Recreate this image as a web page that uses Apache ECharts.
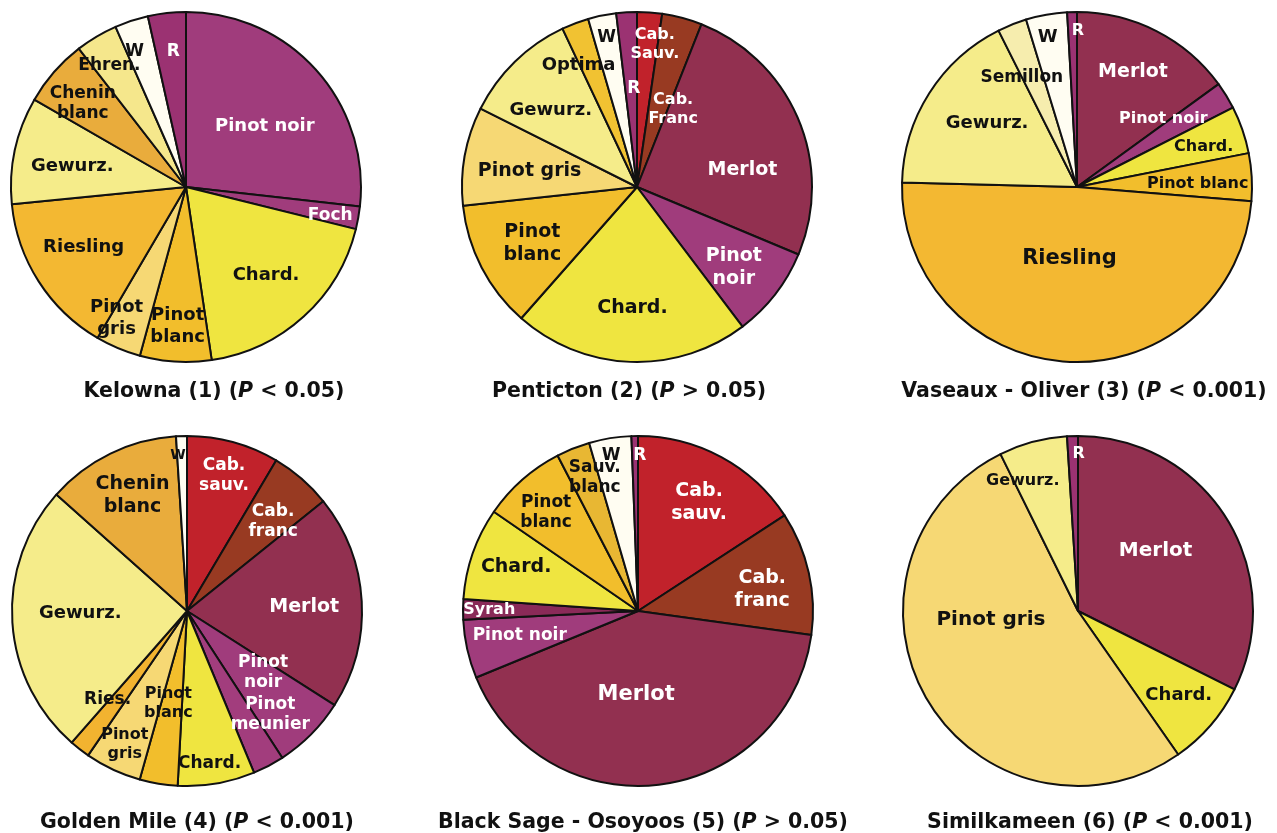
<!DOCTYPE html>
<html>
<head>
<meta charset="utf-8">
<script src="https://cdn.jsdelivr.net/npm/echarts@6/dist/echarts.min.js"></script>
<style>
html,body{margin:0;padding:0;background:#fff;}
#chart{width:1277px;height:833px;}
</style>
</head>
<body>
<div id="chart"></div>
<script>
// ---------- DATA (percent share) ----------
const kelownaCats = ['Pinot noir','Foch','Chard.','Pinot\nblanc','Pinot\ngris','Riesling','Gewurz.','Chenin\nblanc','Ehren.','W','R'];
const kelownaVals = [26.8, 2.1, 18.8, 6.6, 4.2, 15.0, 9.9, 6.2, 3.9, 3.1, 3.5];

const pentictonCats = ['Cab.\nSauv.','Cab.\nFranc','Merlot','Pinot\nnoir','Chard.','Pinot\nblanc','Pinot gris','Gewurz.','Optima','W','R'];
const pentictonVals = [2.3, 3.7, 25.3, 8.4, 21.8, 11.8, 9.1, 10.6, 2.5, 2.6, 1.9];

const vaseauxCats = ['Merlot','Pinot noir','Chard.','Pinot blanc','Riesling','Gewurz.','Semillon','W','R'];
const vaseauxVals = [15.0, 2.5, 4.4, 4.4, 49.1, 17.2, 2.7, 3.8, 0.9];

const goldenCats = ['Cab.\nsauv.','Cab.\nfranc','Merlot','Pinot\nnoir','Pinot\nmeunier','Chard.','Pinot\nblanc','Pinot\ngris','Ries.','Gewurz.','Chenin\nblanc','W'];
const goldenVals = [8.5, 5.7, 19.8, 6.8, 2.9, 7.1, 3.5, 5.2, 1.9, 25.1, 12.4, 1.0];

const blackSageCats = ['Cab.\nsauv.','Cab.\nfranc','Merlot','Pinot noir','Syrah','Chard.','Pinot\nblanc','Sauv.\nblanc','W','R'];
const blackSageVals = [15.8, 11.4, 41.6, 5.4, 1.9, 8.5, 7.8, 3.1, 3.9, 0.6];

const simCats = ['Merlot','Chard.','Pinot gris','Gewurz.','R'];
const simVals = [32.4, 7.9, 52.4, 6.3, 1.0];

const titleNames = ['Kelowna (1) (', 'Penticton (2) (', 'Vaseaux - Oliver (3) (', 'Golden Mile (4) (', 'Black Sage - Osoyoos (5) (', 'Similkameen (6) ('];
const titleStats = [' < 0.05)', ' > 0.05)', ' < 0.001)', ' < 0.001)', ' > 0.05)', ' < 0.001)'];

// ---------- LAYOUT / STYLE ----------
const centers = [[186,187],[637,187],[1077,187],[187,611],[638,611],[1078,611]];
const R = 175;
const titleLeft = [209, 624, 1079, 192, 638, 1085];
const titleTop = [376, 376, 376, 807, 807, 807];

// label placement: [radial fraction, angle shift (deg), font size]
const kelownaLab = [[0.57,4,18],[0.84,1,17],[0.68,0,18],[0.8,0,18],[0.85,5,18],[0.68,2,18],[0.66,-2,18],[0.76,-2,17],[0.82,-1.5,17],[0.83,-2.5,17],[0.78,1,17]];
const pentictonLab = [[0.82,3,16],[0.49,10,16],[0.61,14,19],[0.72,2,19],[0.69,0,19],[0.68,-1,19],[0.62,-2,19],[0.66,-4,18],[0.77,-5,18],[0.87,0,17],[0.56,1.5,17]];
const vaseauxLab = [[0.73,-1,19],[0.63,-7,16],[0.76,1.4,16],[0.69,1.7,16],[0.41,3,21],[0.63,3,18],[0.70,-5,17],[0.87,-1,18],[0.89,2,16]];
const goldenLab = [[0.8,0,17],[0.71,3,17],[0.67,1,19],[0.56,-5.7,17],[0.76,-11,17],[0.88,1.3,17],[0.54,2,16],[0.84,0,16],[0.68,4,17],[0.61,2.5,18],[0.73,0.7,19],[0.89,-1.5,14]];
const blackSageLab = [[0.71,1,19],[0.72,3,19],[0.48,8.5,21],[0.69,1,17],[0.85,0,16],[0.74,0.5,19],[0.77,-1.6,17],[0.8,3.8,17],[0.9,-0.6,17],[0.89,1.7,17]];
const simLab = [[0.56,-6,20],[0.75,-1,18],[0.5,25,20],[0.81,-8,16],[0.9,2,16]];

const colorMap = {
  'pinot noir':'#A03C7C','foch':'#A03C7C','r':'#9B3272','merlot':'#923050',
  'cab. sauv.':'#C1222B','cab. franc':'#983A22','syrah':'#8A2A58','pinot meunier':'#A23D7D',
  'chard.':'#EFE540','pinot blanc':'#F2BE2C','pinot gris':'#F6D874','riesling':'#F3B832',
  'ries.':'#F2B330','gewurz.':'#F5EC8A','chenin blanc':'#E9AC3C','ehren.':'#F5E78C',
  'w':'#FFFDF2','optima':'#F1C232','semillon':'#F6EDAE','sauv. blanc':'#E8B733'
};
const whiteText = ['pinot noir','foch','r','merlot','cab. sauv.','cab. franc','syrah','pinot meunier'];

const allCats = [kelownaCats, pentictonCats, vaseauxCats, goldenCats, blackSageCats, simCats];
const allVals = [kelownaVals, pentictonVals, vaseauxVals, goldenVals, blackSageVals, simVals];
const allLab = [kelownaLab, pentictonLab, vaseauxLab, goldenLab, blackSageLab, simLab];

const FONT = 'DejaVu Sans';
const keyOf = n => n.replace('\n',' ').toLowerCase();

const series = allCats.map((cats, s) => ({
  type: 'pie',
  center: centers[s],
  radius: R,
  startAngle: 90,
  clockwise: true,
  avoidLabelOverlap: false,
  silent: true,
  animation: false,
  itemStyle: { borderColor: '#111', borderWidth: 2 },
  label: { show: true, position: 'inside', formatter: '{b}', fontFamily: FONT, fontWeight: 'bold' },
  labelLine: { show: false },
  emphasis: { disabled: true },
  data: cats.map((c, i) => {
    const k = keyOf(c);
    const lab = allLab[s][i];
    return {
      name: c,
      value: allVals[s][i],
      itemStyle: { color: colorMap[k] },
      label: {
        color: whiteText.includes(k) ? '#fff' : '#111',
        fontSize: lab[2],
        lineHeight: Math.round(lab[2] * 1.2)
      }
    };
  }),
  labelLayout: function (p) {
    const vals = allVals[s];
    const total = vals.reduce((a, b) => a + b, 0);
    let before = 0;
    for (let j = 0; j < p.dataIndex; j++) before += vals[j];
    const mid = (before + vals[p.dataIndex] / 2) / total * 360;
    const lab = allLab[s][p.dataIndex];
    const a = (mid + lab[1]) * Math.PI / 180;
    return {
      x: centers[s][0] + lab[0] * R * Math.sin(a),
      y: centers[s][1] - lab[0] * R * Math.cos(a),
      align: 'center',
      verticalAlign: 'middle'
    };
  }
}));

const titleRich = {
  b: { fontFamily: FONT, fontWeight: 'bold', fontSize: 20.5, color: '#111' },
  i: { fontFamily: FONT, fontWeight: 'bold', fontStyle: 'italic', fontSize: 20.5, color: '#111' }
};
const titles = titleNames.map((t, i) => ({
  text: '{b|' + t + '}{i|P}{b|' + titleStats[i] + '}',
  left: titleLeft[i],
  top: titleTop[i],
  textAlign: 'center',
  textStyle: { rich: titleRich }
}));

const chart = echarts.init(document.getElementById('chart'));
chart.setOption({
  backgroundColor: '#fff',
  animation: false,
  title: titles,
  series: series
});
</script>
</body>
</html>
